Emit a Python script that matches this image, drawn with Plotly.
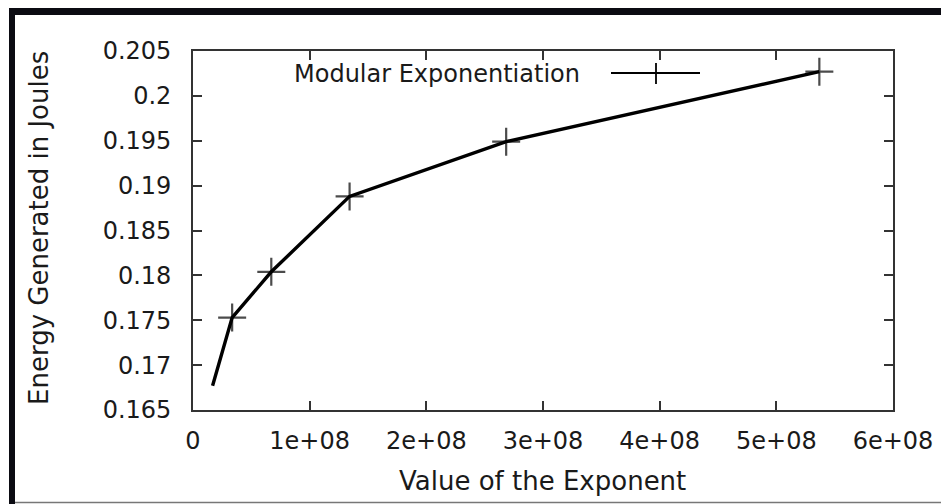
import plotly.graph_objects as go

# ---- data ----
exponent_values = [16777216, 33554432, 67108864, 134217728, 268435456, 536870912]
energy_joules = [0.1677, 0.1753, 0.1804, 0.1888, 0.1949, 0.2027]
marker_sizes = [0, 20, 20, 20, 20, 20]

x_tick_vals = [0, 1e8, 2e8, 3e8, 4e8, 5e8, 6e8]
x_tick_text = ["0", "1e+08", "2e+08", "3e+08", "4e+08", "5e+08", "6e+08"]
y_tick_vals = [0.165, 0.17, 0.175, 0.18, 0.185, 0.19, 0.195, 0.2, 0.205]
y_tick_text = ["0.165", "0.17", "0.175", "0.18", "0.185", "0.19", "0.195", "0.2", "0.205"]

series_name = "Modular Exponentiation"
x_title = "Value of the Exponent"
y_title = "Energy Generated in Joules"

# ---- layout geometry (pixels) ----
W, H = 941, 504
L, R, T, B = 193, 893, 51, 410
PW, PH = R - L, B - T


def px(x):
    return (x - L) / PW


def py(y):
    return (B - y) / PH


FONT = "DejaVu Sans"
TEXT = "#1a1a1a"

fig = go.Figure()
fig.add_trace(go.Scatter(
    x=exponent_values, y=energy_joules, mode="lines+markers",
    name=series_name, showlegend=False,
    line=dict(color="black", width=3.4),
    marker=dict(symbol="cross-thin", size=marker_sizes, color="black",
                line=dict(color="black", width=2.2)),
))

axis_common = dict(
    showgrid=False, zeroline=False, showline=True, linecolor="#333333", linewidth=1.6,
    mirror="ticks", ticks="inside", ticklen=9, tickwidth=1.5, tickcolor="#333333",
    tickfont=dict(family=FONT, size=24, color=TEXT),
)
fig.update_xaxes(range=[0, 6e8], tickmode="array", tickvals=x_tick_vals,
                 ticktext=x_tick_text, ticklabelstandoff=8, **axis_common)
fig.update_yaxes(range=[0.165, 0.205], tickmode="array", tickvals=y_tick_vals,
                 ticktext=y_tick_text, ticklabelstandoff=15, **axis_common)

annotations = [
    dict(text=x_title, x=px(542), y=py(481), xref="paper", yref="paper",
         showarrow=False, xanchor="center", yanchor="middle",
         font=dict(family=FONT, size=26, color=TEXT)),
    dict(text=y_title, x=px(39), y=py(228), xref="paper", yref="paper",
         showarrow=False, xanchor="center", yanchor="middle", textangle=-90,
         font=dict(family=FONT, size=26, color=TEXT)),
    dict(text=series_name, x=px(582), y=py(74), xref="paper", yref="paper",
         showarrow=False, xanchor="right", yanchor="middle",
         font=dict(family=FONT, size=24, color=TEXT)),
]

shapes = [
    # legend sample line and plus marker
    dict(type="line", xref="paper", yref="paper", x0=px(611), x1=px(700),
         y0=py(73), y1=py(73), line=dict(color="black", width=1.8)),
    dict(type="line", xref="paper", yref="paper", x0=px(656), x1=px(656),
         y0=py(63), y1=py(84), line=dict(color="black", width=1.8)),
    # image frame
    dict(type="rect", xref="paper", yref="paper", x0=px(9), x1=px(941),
         y0=py(15), y1=py(8), fillcolor="#0b0b12", line=dict(width=0), layer="above"),
    dict(type="rect", xref="paper", yref="paper", x0=px(9), x1=px(15),
         y0=py(504), y1=py(8), fillcolor="#0b0b12", line=dict(width=0), layer="above"),
    dict(type="line", xref="paper", yref="paper", x0=px(15), x1=px(941),
         y0=py(502.5), y1=py(502.5), line=dict(color="#777777", width=1.5)),
]

fig.update_layout(
    width=W, height=H,
    margin=dict(l=L, r=W - R, t=T, b=H - B, autoexpand=False),
    paper_bgcolor="white", plot_bgcolor="white",
    annotations=annotations, shapes=shapes,
    showlegend=False,
)

fig.write_html(
    "out.html",
    config={"displayModeBar": False},
    post_script="document.body.style.margin='0';document.body.style.overflow='hidden';",
)
